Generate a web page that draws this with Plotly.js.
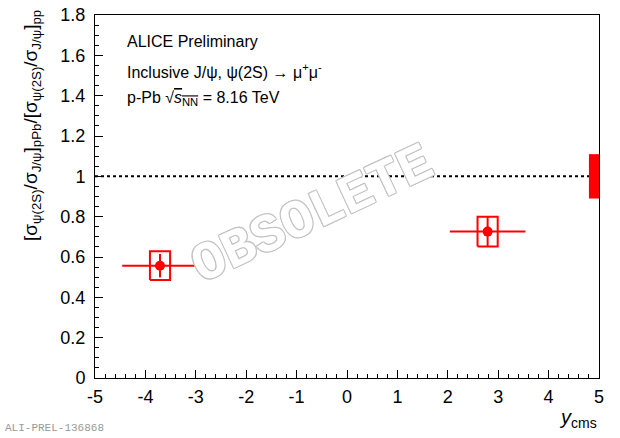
<!DOCTYPE html>
<html>
<head>
<meta charset="utf-8">
<script src="https://cdn.plot.ly/plotly-3.0.1.min.js"></script>
<style>html,body{margin:0;padding:0;background:#fff;}</style>
</head>
<body>
<div id="chart" style="width:620px;height:438px;"></div>
<script>
// ---- data ----
const rapidity = [-3.71, 2.79];          // y_cms bin centres
const rapidityHalfWidth = [0.75, 0.75];  // bin half-widths
const ratio = [0.557, 0.726];            // double ratio values
const statErr = [0.058, 0.074];          // statistical uncertainties
const sysErr = [0.071, 0.074];           // systematic uncertainties
const referenceValue = 1;                // unity line
const globalSysErr = 0.11;               // global (correlated) uncertainty
const xTickVals = [-5, -4, -3, -2, -1, 0, 1, 2, 3, 4, 5];
const yTickVals = [0, 0.2, 0.4, 0.6, 0.8, 1, 1.2, 1.4, 1.6, 1.8];

// ---- drawing ----
const RED = '#ff0000';
const FONT = 'Liberation Sans, Arial, Helvetica, sans-serif';
const boxHalfW = 0.2;       // drawn width of systematic boxes
const globalBoxW = 0.2;     // drawn width of the global box

const sysX = [], sysY = [];
rapidity.forEach((x, i) => {
  const lo = ratio[i] - sysErr[i], hi = ratio[i] + sysErr[i];
  sysX.push(x - boxHalfW, x + boxHalfW, x + boxHalfW, x - boxHalfW, x - boxHalfW, null);
  sysY.push(lo, lo, hi, hi, lo, null);
});

const xMax = xTickVals[xTickVals.length - 1];
const xMin = xTickVals[0];

const traces = [
  { // unity reference line
    x: [xMin, xMax], y: [referenceValue, referenceValue],
    mode: 'lines', line: {color: '#000', width: 2, dash: '3px,3px'},
    hoverinfo: 'skip', showlegend: false
  },
  { // global uncertainty box
    x: [xMax - globalBoxW, xMax, xMax, xMax - globalBoxW, xMax - globalBoxW],
    y: [referenceValue - globalSysErr, referenceValue - globalSysErr, referenceValue + globalSysErr, referenceValue + globalSysErr, referenceValue - globalSysErr],
    mode: 'lines', fill: 'toself', fillcolor: RED, line: {color: RED, width: 0},
    hoverinfo: 'skip', showlegend: false
  },
  { // systematic boxes
    x: sysX, y: sysY, mode: 'lines', line: {color: RED, width: 2},
    connectgaps: false, hoverinfo: 'skip', showlegend: false
  },
  { // points with stat errors
    x: rapidity, y: ratio, mode: 'markers', type: 'scatter',
    marker: {color: RED, size: 10, symbol: 'circle'},
    error_x: {type: 'data', array: rapidityHalfWidth, symmetric: true, color: RED, thickness: 2, width: 0},
    error_y: {type: 'data', array: statErr, symmetric: true, color: RED, thickness: 2, width: 0},
    showlegend: false
  }
];

const axisCommon = {
  showgrid: false, zeroline: false, showline: true, mirror: true,
  linecolor: '#000', linewidth: 1,
  ticks: 'inside', ticklen: 8, tickwidth: 1, tickcolor: '#000',
  tickfont: {family: FONT, size: 18, color: '#000'}
};

const layout = {
  width: 620, height: 438,
  margin: {l: 95, r: 21, t: 15, b: 60, pad: 0},
  paper_bgcolor: '#fff', plot_bgcolor: '#fff',
  showlegend: false,
  xaxis: Object.assign({}, axisCommon, {
    range: [xMin, xMax], tickmode: 'array', tickvals: xTickVals,
    ticktext: xTickVals.map(String),
    minor: {ticks: 'inside', dtick: 0.2, tick0: -5, ticklen: 4, tickwidth: 1, tickcolor: '#000'},
    ticklabelstandoff: 2
  }),
  yaxis: Object.assign({}, axisCommon, {
    range: [yTickVals[0], yTickVals[yTickVals.length - 1]], tickmode: 'array', tickvals: yTickVals,
    ticktext: yTickVals.map(String),
    minor: {ticks: 'inside', dtick: 0.05, tick0: 0, ticklen: 4, tickwidth: 1, tickcolor: '#000'},
    ticklabelstandoff: 5
  }),
  annotations: [
    {xref: 'paper', yref: 'paper', x: (125 - 95) / 504, y: 0.928, xanchor: 'left', yanchor: 'middle',
     text: 'ALICE Preliminary', showarrow: false, font: {family: FONT, size: 16, color: '#000'}},
    {xref: 'paper', yref: 'paper', x: (125 - 95) / 504, y: 0.846, xanchor: 'left', yanchor: 'middle',
     text: 'Inclusive J/ψ, ψ(2S) → μ<sup>+</sup>μ<sup>-</sup>', showarrow: false, font: {family: FONT, size: 16, color: '#000'}},
    {xref: 'paper', yref: 'paper', x: (125 - 95) / 504, y: 0.771, xanchor: 'left', yanchor: 'middle',
     text: 'p-Pb √<span style="text-decoration:overline"><i>s</i><sub>NN</sub></span> = 8.16 TeV', showarrow: false, font: {family: FONT, size: 16, color: '#000'}},
    {xref: 'paper', yref: 'paper', x: (32 - 95) / 504, y: (378 - 126) / 363, xanchor: 'center', yanchor: 'middle',
     textangle: -90,
     text: '[σ<sub>ψ(2S)</sub>/σ<sub>J/ψ</sub>]<sub>pPb</sub>/[σ<sub>ψ(2S)</sub>/σ<sub>J/ψ</sub>]<sub>pp</sub>',
     showarrow: false, font: {family: FONT, size: 19, color: '#000'}},
    {xref: 'paper', yref: 'paper', x: 1, y: (378 - 418) / 363, xanchor: 'right', yanchor: 'middle',
     text: '<i>y</i><sub>cms</sub>', showarrow: false, font: {family: FONT, size: 20, color: '#000'}},
    {xref: 'paper', yref: 'paper', x: (3 - 95) / 504, y: (378 - 428) / 363, xanchor: 'left', yanchor: 'middle',
     text: 'ALI-PREL-136868', showarrow: false, font: {family: 'Liberation Mono, Courier New, monospace', size: 11, color: '#999'}},
    {xref: 'paper', yref: 'paper', x: (312 - 95) / 504, y: (378 - 215) / 363, xanchor: 'center', yanchor: 'middle',
     textangle: -25, text: 'OBSOLETE', showarrow: false,
     font: {family: 'Liberation Mono, Courier New, monospace', size: 54, weight: 'bold', color: '#fff',
            shadow: '1px 1px 0 #c4c4c4, -1px -1px 0 #c4c4c4, 1px -1px 0 #c4c4c4, -1px 1px 0 #c4c4c4, 0 1px 0 #c4c4c4, 0 -1px 0 #c4c4c4, 1px 0 0 #c4c4c4, -1px 0 0 #c4c4c4'}}
  ]
};

Plotly.newPlot('chart', traces, layout, {displayModeBar: false, staticPlot: true});
</script>
</body>
</html>
